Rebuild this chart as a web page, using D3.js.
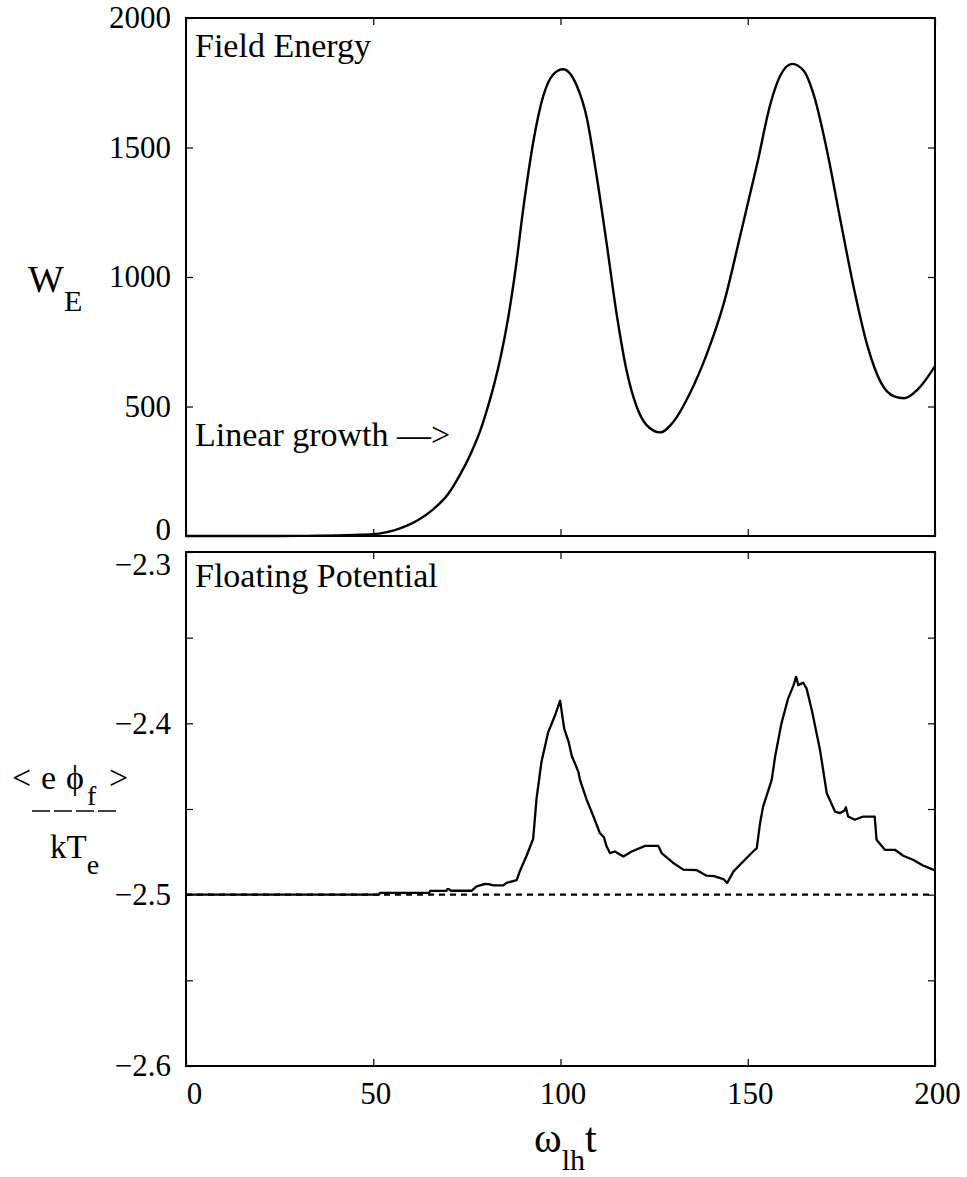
<!DOCTYPE html>
<html>
<head>
<meta charset="utf-8">
<script src="https://cdn.jsdelivr.net/npm/d3@7"></script>
<style>
  body { margin: 0; background: #fff; }
  text { font-family: "Liberation Serif", "Times New Roman", serif; fill: #000; }
</style>
</head>
<body>
<div id="chart"></div>
<script>
// field energy W_E vs time
var energyT = [0, 20, 30, 35, 40, 45, 50, 53, 56, 59, 62, 66, 70, 73, 76, 78.4, 80, 82, 84, 86, 88, 90, 92.7, 95.4, 98, 100.7, 104.3, 107, 109.6, 112.3, 115, 117.7, 120.4, 123, 126.6, 130.2, 134.6, 139.1, 143.6, 148, 152.5, 156.1, 158.8, 161.9, 165, 167.7, 171.3, 174.8, 178.4, 182, 185.5, 189.1, 191.8, 195.4, 200];
var energyW = [0, 0, 0.3, 0.8, 2, 4, 7, 13, 24, 40, 62, 103, 162, 232, 317, 400, 470, 570, 690, 840, 1030, 1257, 1519, 1699, 1781, 1802, 1740, 1616, 1395, 1132, 856, 635, 497, 428, 400, 442, 552, 704, 898, 1160, 1436, 1671, 1781, 1823, 1795, 1699, 1478, 1215, 953, 732, 594, 539, 532, 566, 656];

// floating potential vs time
var potT = [0, 46.5, 51.5, 51.8, 65, 65.2, 69.5, 69.8, 70.2, 70.7, 76.3, 77.6, 79.9, 80.8, 82.1, 84.7, 85.6, 88.3, 89.2, 91, 92.7, 93.6, 94.9, 96.7, 98.5, 99.9, 101, 102.2, 103, 104.8, 105.2, 107, 108.8, 110.5, 111.6, 112.3, 113.2, 114.5, 116.8, 119, 122.6, 126.1, 127, 130.1, 132.8, 136.4, 139, 141, 143.5, 144.5, 146.2, 149.7, 151.9, 152.4, 153.3, 154.1, 156.4, 157.3, 159, 160.8, 162.2, 162.9, 163.5, 164.8, 165.7, 167.1, 169.3, 171.1, 173.3, 174.6, 175.8, 176.2, 176.8, 178.6, 180.8, 183.9, 184.4, 186.6, 189.3, 191.5, 194.1, 196.8, 200];
var potV = [-2.5, -2.5, -2.5, -2.499, -2.499, -2.4978, -2.4978, -2.4968, -2.4968, -2.4977, -2.4977, -2.4952, -2.4937, -2.4938, -2.4946, -2.4946, -2.4931, -2.4915, -2.486, -2.477, -2.4674, -2.444, -2.4227, -2.4052, -2.3956, -2.3868, -2.4033, -2.411, -2.4189, -2.4285, -2.433, -2.4447, -2.4544, -2.464, -2.4665, -2.4718, -2.4757, -2.4748, -2.4777, -2.4748, -2.4715, -2.4715, -2.4757, -2.4815, -2.4854, -2.4857, -2.4889, -2.4892, -2.4909, -2.4932, -2.4864, -2.4786, -2.4738, -2.473, -2.458, -2.4486, -2.433, -2.4195, -2.40, -2.3854, -2.378, -2.3729, -2.3777, -2.3763, -2.3796, -2.3922, -2.4156, -2.4408, -2.4515, -2.4524, -2.451, -2.449, -2.4544, -2.4563, -2.4544, -2.4544, -2.468, -2.4738, -2.4738, -2.4773, -2.4796, -2.483, -2.4858];

var floatLevel = -2.5;

var xTicks = [0, 50, 100, 150, 200];
var energyTicks = [0, 500, 1000, 1500, 2000];
var potTicks = [-2.6, -2.55, -2.5, -2.45, -2.4, -2.35, -2.3];
var potLabels = [-2.6, -2.5, -2.4, -2.3];

var width = 967, height = 1177;
var left = 186, right = 935;

var svg = d3.select("#chart").append("svg")
    .attr("width", width)
    .attr("height", height);

var x = d3.scaleLinear().domain([0, 200]).range([left, right]);
var yTop = d3.scaleLinear().domain([0, 2000]).range([536, 18]);
var yBot = d3.scaleLinear().domain([-2.6, -2.3]).range([1066, 552]);

var minus = function(v) { return String(v).replace("-", "\u2212"); };

// framed panel, inward ticks on all four sides
function drawFrame(y, yt, labels, showX) {
    var g = svg.append("g");
    var y0 = y.range()[0], y1 = y.range()[1];

    var gx = g.append("g").attr("transform", "translate(0," + y0 + ")")
        .call(d3.axisBottom(x).tickValues(xTicks).tickSizeInner(-7).tickSizeOuter(0)
            .tickFormat(showX ? d3.format("d") : ""));
    g.append("g").attr("transform", "translate(0," + y1 + ")")
        .call(d3.axisTop(x).tickValues(xTicks).tickSizeInner(-7).tickSizeOuter(0).tickFormat(""));
    var gy = g.append("g").attr("transform", "translate(" + left + ",0)")
        .call(d3.axisLeft(y).tickValues(yt).tickSizeInner(-7).tickSizeOuter(0)
            .tickFormat(function(d) { return labels.indexOf(d) >= 0 ? minus(d) : ""; }));
    g.append("g").attr("transform", "translate(" + right + ",0)")
        .call(d3.axisRight(y).tickValues(yt).tickSizeInner(-7).tickSizeOuter(0).tickFormat(""));

    g.selectAll(".domain").remove();
    g.selectAll(".tick line").attr("stroke", "#000").attr("stroke-width", 1.2);
    g.selectAll(".tick text").style("font-size", "31px").attr("fill", "#000");
    gy.selectAll(".tick text").attr("x", -15);
    gx.selectAll(".tick text").attr("y", 16)
        .attr("dx", function(d) { return d === 0 ? 8 : 2; });

    g.append("rect")
        .attr("x", left).attr("y", y1)
        .attr("width", right - left).attr("height", y0 - y1)
        .attr("fill", "none").attr("stroke", "#000").attr("stroke-width", 2);
    return gy;
}

var gyTop = drawFrame(yTop, energyTicks, energyTicks, false);
gyTop.selectAll(".tick text").filter(function(d) { return d === 0; }).attr("dy", "0.1em");

var gyBot = drawFrame(yBot, potTicks, potLabels, true);
gyBot.selectAll(".tick text").filter(function(d) { return d === -2.3; }).attr("dy", "0.72em");

// energy curve
var energyData = energyT.map(function(t, i) { return [t, energyW[i]]; });
svg.append("path")
    .datum(energyData)
    .attr("fill", "none")
    .attr("stroke", "#000")
    .attr("stroke-width", 2.4)
    .attr("d", d3.line()
        .x(function(d) { return x(d[0]); })
        .y(function(d) { return yTop(d[1]); })
        .curve(d3.curveMonotoneX));

// reference level
svg.append("line")
    .attr("x1", x(0)).attr("x2", x(200))
    .attr("y1", yBot(floatLevel)).attr("y2", yBot(floatLevel))
    .attr("stroke", "#000").attr("stroke-width", 2.2)
    .attr("stroke-dasharray", "6,5");

var potData = potT.map(function(t, i) { return [t, potV[i]]; });
svg.append("path")
    .datum(potData)
    .attr("fill", "none")
    .attr("stroke", "#000")
    .attr("stroke-width", 2.3)
    .attr("stroke-linejoin", "round")
    .attr("d", d3.line()
        .x(function(d) { return x(d[0]); })
        .y(function(d) { return yBot(d[1]); }));

// panel titles
svg.append("text").attr("x", 195).attr("y", 57).style("font-size", "34px").text("Field Energy");
svg.append("text").attr("x", 195).attr("y", 446).style("font-size", "34px").text("Linear growth \u2013\u2013>");
svg.append("text").attr("x", 195).attr("y", 587).style("font-size", "34px").text("Floating Potential");

// y labels
var wl = svg.append("text").attr("x", 28).attr("y", 292).style("font-size", "38px");
wl.append("tspan").text("W");
wl.append("tspan").attr("dy", 19).style("font-size", "30px").text("E");

var num = svg.append("text").attr("x", 12).attr("y", 789).style("font-size", "34px");
num.append("tspan").text("<");
num.append("tspan").attr("x", 41).text("e");
num.append("tspan").attr("x", 66).text("\u03d5");
num.append("tspan").attr("x", 87).attr("dy", 16).style("font-size", "28px").text("f");
num.append("tspan").attr("x", 109).attr("dy", -16).text(">");
// dashed fraction bar
svg.append("line")
    .attr("x1", 32).attr("x2", 117).attr("y1", 811).attr("y2", 811)
    .attr("stroke", "#000").attr("stroke-width", 1.6)
    .attr("stroke-dasharray", "18,4");
var kl = svg.append("text").attr("x", 50).attr("y", 858).style("font-size", "33px");
kl.append("tspan").text("kT");
kl.append("tspan").attr("dy", 16).style("font-size", "28px").text("e");

// x label
var xl = svg.append("text").attr("x", 534).attr("y", 1152).style("font-size", "42px");
xl.append("tspan").text("\u03c9");
xl.append("tspan").attr("dy", 18).style("font-size", "30px").text("lh");
xl.append("tspan").attr("dy", -18).text("t");
</script>
</body>
</html>
